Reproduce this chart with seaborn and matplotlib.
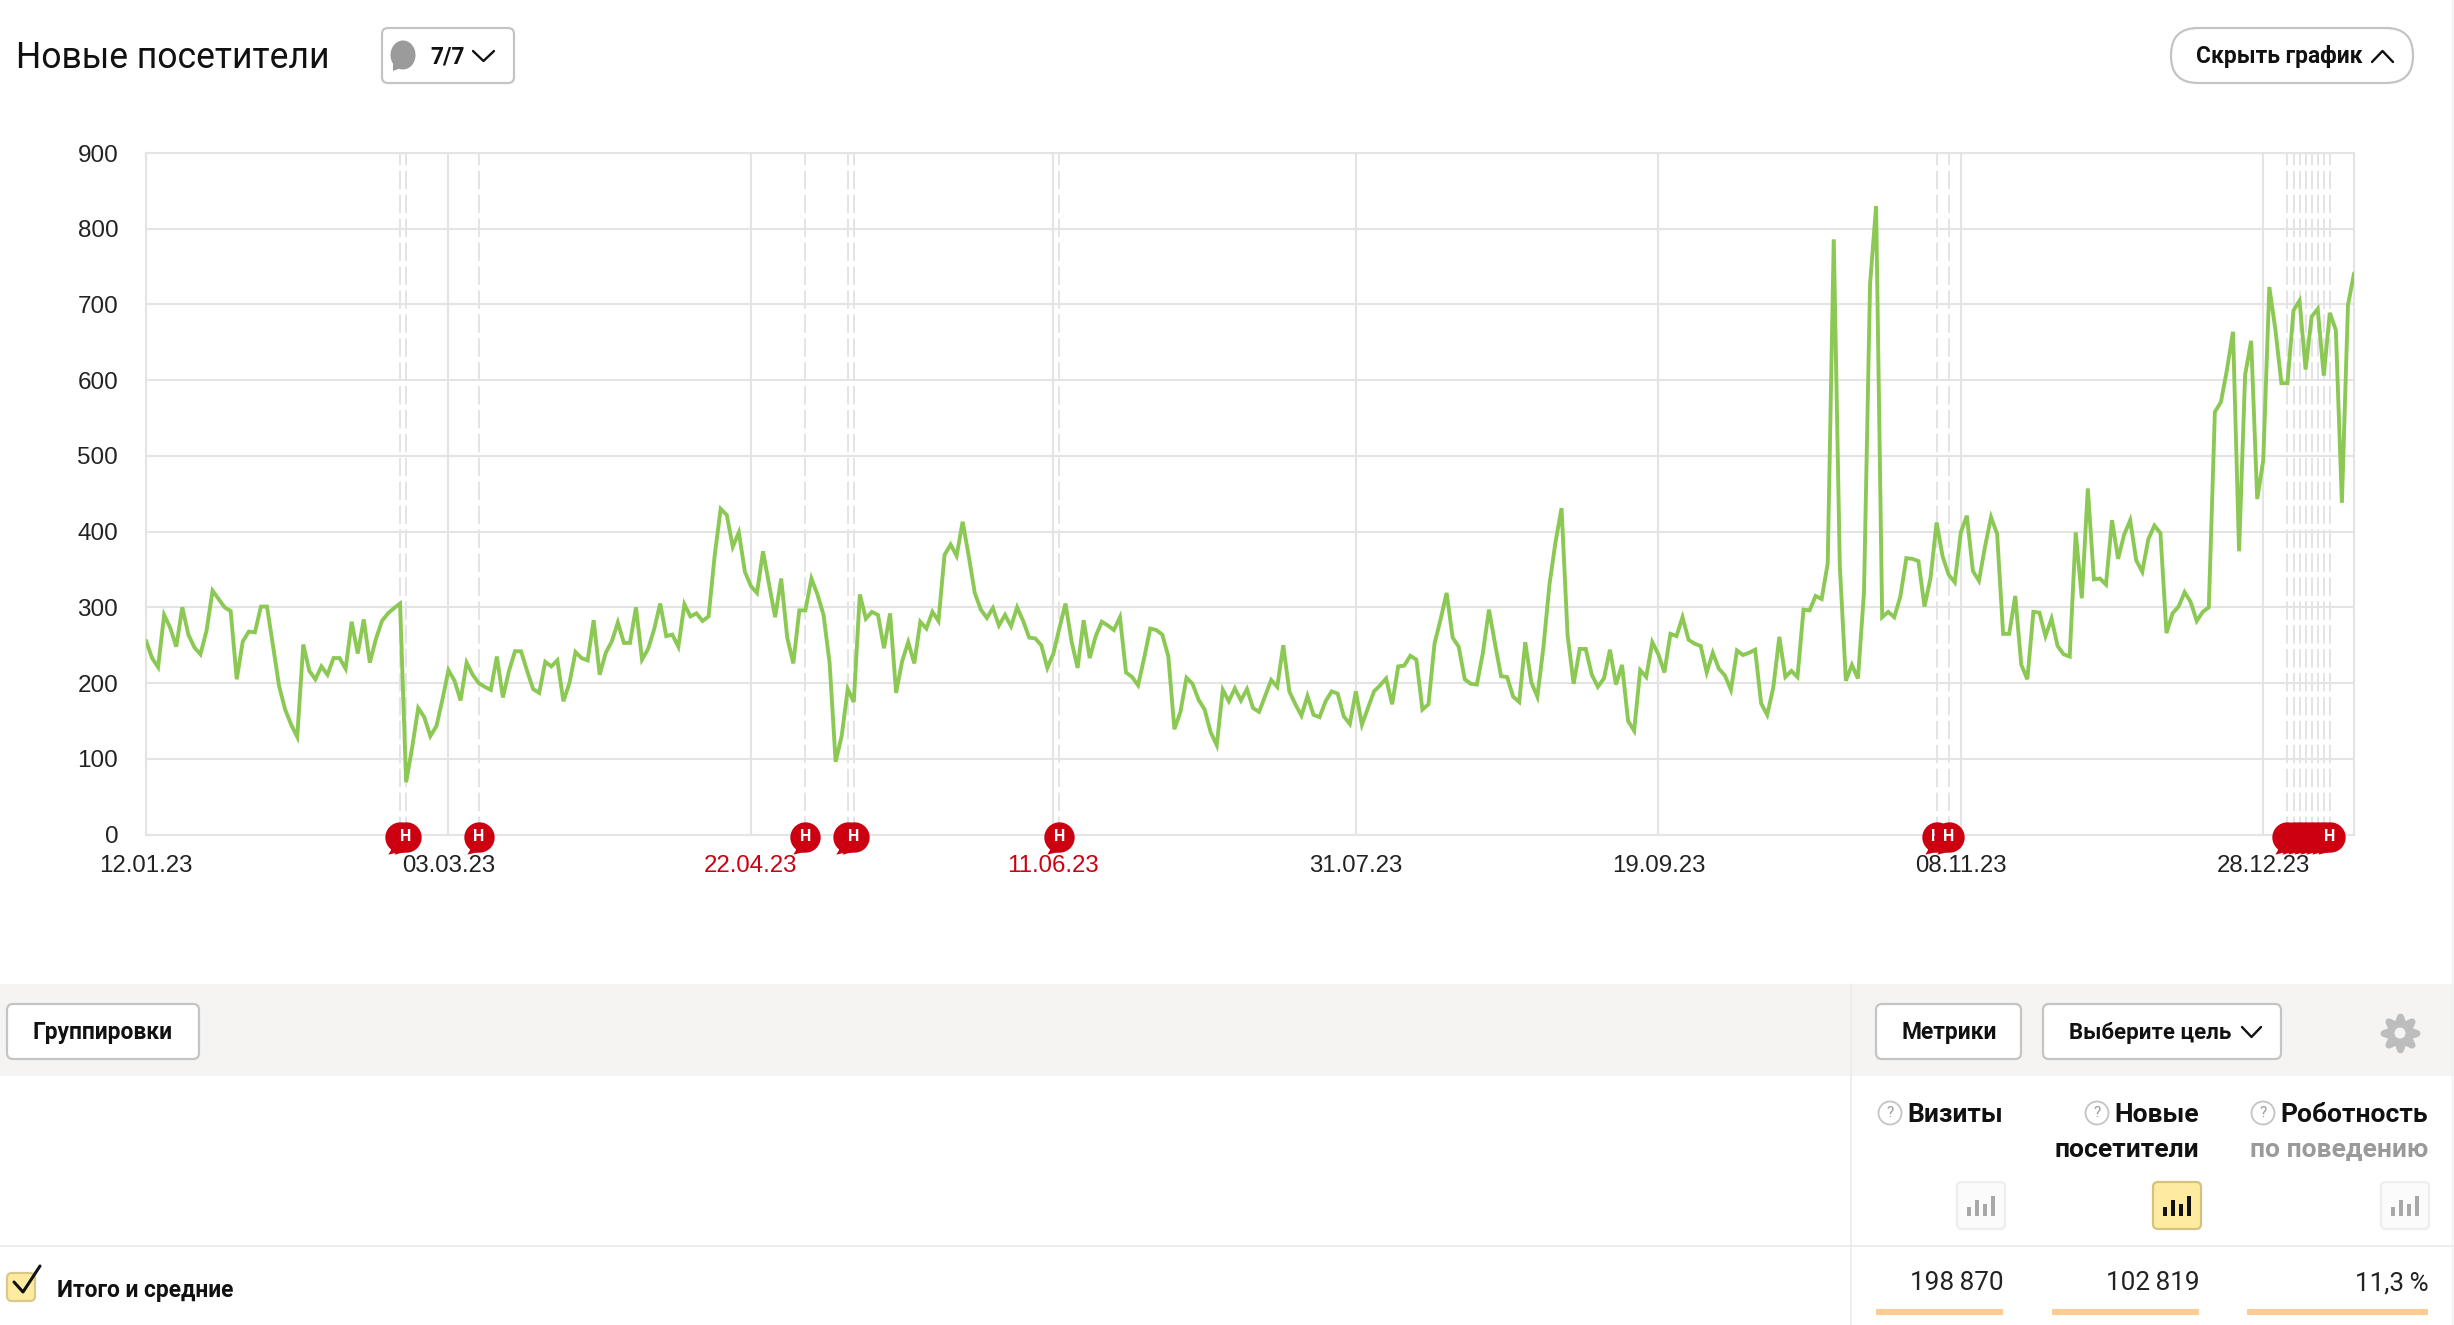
import pandas as pd
import seaborn as sns
import matplotlib.pyplot as plt
from matplotlib.patches import FancyBboxPatch, Rectangle, Circle, Ellipse, Polygon
from matplotlib.path import Path

# Daily values, 12.01.23 onwards
new_visitors = [
    256, 233, 221, 290, 273, 248, 300, 264, 247, 238, 269, 322, 311, 300, 295, 205, 255, 268, 267, 301,
    301, 249, 196, 165, 145, 129, 251, 216, 205, 222, 211, 233, 233, 219, 281, 239, 284, 227, 258, 282,
    292, 299, 305, 69, 115, 167, 155, 130, 143, 178, 217, 203, 177, 227, 211, 200, 195, 191, 235, 181,
    216, 242, 242, 216, 192, 187, 228, 222, 230, 176, 200, 241, 233, 230, 283, 211, 240, 255, 280, 253,
    253, 300, 231, 245, 271, 305, 262, 264, 248, 304, 288, 292, 282, 288, 368, 430, 422, 380, 399, 347,
    328, 319, 374, 330, 287, 338, 260, 226, 296, 296, 338, 317, 290, 227, 96, 130, 192, 175, 317, 285,
    294, 290, 246, 292, 187, 229, 254, 226, 281, 272, 294, 282, 369, 383, 368, 413, 368, 319, 297, 286,
    299, 276, 290, 275, 300, 282, 260, 259, 250, 220, 239, 273, 305, 255, 220, 283, 233, 262, 281, 276,
    270, 287, 214, 208, 197, 233, 272, 270, 264, 235, 139, 162, 207, 199, 178, 165, 135, 118, 191, 176,
    193, 177, 192, 167, 162, 183, 204, 195, 250, 189, 172, 157, 183, 158, 155, 176, 189, 186, 156, 146,
    189, 145, 167, 189, 197, 206, 172, 222, 223, 236, 231, 165, 172, 252, 284, 319, 260, 248, 205, 199,
    198, 240, 297, 252, 209, 208, 182, 175, 254, 201, 182, 247, 330, 386, 431, 263, 199, 245, 245, 211,
    195, 206, 244, 198, 224, 150, 137, 217, 208, 254, 238, 214, 265, 262, 287, 257, 252, 249, 214, 240,
    219, 210, 191, 243, 237, 240, 244, 173, 158, 194, 261, 208, 216, 208, 297, 296, 315, 311, 358, 786,
    355, 203, 224, 206, 320, 727, 830, 287, 294, 287, 314, 365, 364, 361, 301, 339, 412, 367, 343, 333,
    399, 421, 348, 335, 380, 419, 397, 265, 265, 315, 224, 205, 294, 293, 262, 285, 249, 238, 235, 399,
    312, 457, 337, 338, 330, 415, 364, 396, 415, 362, 347, 390, 408, 398, 266, 292, 301, 320, 307, 282,
    294, 300, 558, 571, 614, 664, 374, 607, 652, 443, 494, 723, 667, 596, 596, 692, 705, 614, 684, 694,
    606, 689, 666, 438, 699, 741,
]
start_date = "2023-01-12"

tick_labels = ["12.01.23", "03.03.23", "22.04.23", "11.06.23", "31.07.23", "19.09.23", "08.11.23", "28.12.23"]
red_labels = ["22.04.23", "11.06.23"]
y_ticks = [0, 100, 200, 300, 400, 500, 600, 700, 800, 900]

# Holiday notes on the chart
note_dates = ["2023-02-23", "2023-02-24", "2023-03-08", "2023-05-01", "2023-05-08", "2023-05-09",
              "2023-06-12", "2023-11-04", "2023-11-06", "2024-01-01", "2024-01-02", "2024-01-03",
              "2024-01-04", "2024-01-05", "2024-01-06", "2024-01-07", "2024-01-08"]

metrics_totals = ["198\u2009870", "102\u2009819", "11,3\u2009%"]

W, H = 2454, 1325
GRID = "#e4e4e4"
GREEN = "#8bc954"
RED = "#cc0011"
BOLD = 16.4

sns.set_style("white")
plt.rcParams["font.family"] = ["Roboto", "DejaVu Sans"]

fig = plt.figure(figsize=(W / 100, H / 100), dpi=100)

# page around the chart, drawn in pixel coordinates
ui = fig.add_axes([0, 0, 1, 1], zorder=0)
ui.set_xlim(0, W)
ui.set_ylim(H, 0)
ui.axis("off")


def button(x0, x1, y0, y1, round_size=6, face="white", edge="#c4c4c4"):
    ui.add_patch(FancyBboxPatch((x0, y0), x1 - x0, y1 - y0, boxstyle=f"round,pad=0,rounding_size={round_size}",
                                fc=face, ec=edge, lw=1.6))


def chevron(x0, x1, y0, y1):
    ui.plot([x0, (x0 + x1) / 2, x1], [y0, y1, y0], color="#111111", lw=1.7)


def bar_icon(x0, face, edge, color):
    button(x0, x0 + 48, 1182, 1229, round_size=5, face=face, edge=edge)
    for i, top in enumerate([1207, 1200, 1204, 1196]):
        ui.add_patch(Rectangle((x0 + 10 + i * 8, top), 4, 1216 - top, fc=color, ec="none"))


def question(x, y):
    ui.add_patch(Circle((x, y), 11.5, fc="white", ec="#c4c4c4", lw=1.3))
    ui.text(x, y, "?", ha="center", va="center", fontsize=11, color="#9a9a9a")


def label(x, y, text, size=BOLD, ha="center", color="#111111"):
    ui.text(x, y, text, weight="bold", fontsize=size, ha=ha, va="center", color=color)


ui.text(16, 58, "Новые посетители", fontsize=25.6, va="center", color="#111111")

button(382, 514, 28, 83)
ui.add_patch(Ellipse((403, 55), 25, 29, fc="#9b9b9b", ec="none"))
ui.add_patch(Polygon([[393, 62], [393, 71], [406, 66]], fc="#9b9b9b", ec="none"))
label(448, 57, "7/7")
chevron(473, 494, 51, 61)

button(2171, 2413, 28, 83, round_size=27)
label(2279, 57, "Скрыть график")
chevron(2372, 2393, 62, 51)

ui.add_patch(Rectangle((0, 984), W, 92, fc="#f5f4f2", ec="none"))
ui.plot([1851, 1851], [984, H], color="#eaeaea", lw=1.1)
ui.plot([0, W], [1246, 1246], color="#e8e8e8", lw=1.1)
ui.plot([2452, 2452], [0, H], color="#efefef", lw=1.0)

button(7, 199, 1004, 1059)
label(103, 1033, "Группировки")
button(1876, 2021, 1004, 1059)
label(1949, 1033, "Метрики")
button(2043, 2281, 1004, 1059)
label(2150, 1033, "Выберите цель", size=16)
chevron(2242, 2261, 1027, 1037)

# gear
ui.scatter([2400], [1033], s=560, marker=(8, 1, 0), color="#bdbdbd", linewidths=5)
ui.add_patch(Circle((2400, 1033), 12, fc="#bdbdbd", ec="none"))
ui.add_patch(Circle((2400, 1033), 5.5, fc="#f5f4f2", ec="none"))

# metric headers
for x, text in [(2003, "Визиты"), (2199, "Новые"), (2428, "Роботность")]:
    label(x, 1115, text, size=19, ha="right")
label(2199, 1150, "посетители", size=19, ha="right")
label(2428, 1150, "по поведению", size=19, ha="right", color="#9a9a9a")
question(1890, 1113)
question(2097, 1113)
question(2263, 1113)

bar_icon(1957, "#fbfbfb", "#eeeeee", "#a8a8a8")
bar_icon(2153, "#ffeba0", "#d4c27e", "#111111")
bar_icon(2381, "#fbfbfb", "#eeeeee", "#a8a8a8")

# totals row
button(7, 35, 1273, 1301, round_size=5, face="#ffeba0", edge="#d9c88a")
ui.plot([14, 23, 40], [1282, 1292, 1266], color="#111111", lw=2.2)
label(57, 1290, "Итого и средние", ha="left")
for (x0, x1), text in zip([(1876, 2003), (2052, 2199), (2247, 2428)], metrics_totals):
    ui.text(x1 + 1, 1283, text, fontsize=18.8, ha="right", va="center", color="#222222")
    ui.add_patch(Rectangle((x0, 1309), x1 - x0, 6, fc="#fdcb94", ec="none"))

# chart
ax = fig.add_axes([146 / W, 1 - 834.5 / H, (2354 - 146) / W, 681.5 / H], zorder=1)
ax.set_facecolor("none")

df = pd.DataFrame({"date": pd.date_range(start_date, periods=len(new_visitors)), "visitors": new_visitors})
notes = pd.to_datetime(note_dates)
ticks = pd.to_datetime(tick_labels, format="%d.%m.%y")

for d in notes:
    ax.axvline(d, color=GRID, lw=1.4, linestyle=(0, (9.5, 2.8)), zorder=1)

sns.lineplot(data=df, x="date", y="visitors", color=GREEN, linewidth=2.8, errorbar=None, ax=ax,
             solid_joinstyle="miter", zorder=3)

ax.set_xlim(df["date"].iloc[0], df["date"].iloc[-1])
ax.set_ylim(0, 900)
ax.set_yticks(y_ticks)
ax.set_xticks(ticks)
ax.set_xticklabels(tick_labels)
ax.set_xlabel("")
ax.set_ylabel("")
ax.set_axisbelow(True)
ax.grid(True, color=GRID, lw=1.5)
for side in ax.spines:
    ax.spines[side].set_visible(True)
    ax.spines[side].set_color(GRID)
    ax.spines[side].set_linewidth(1.5)
ax.tick_params(axis="y", length=0, pad=20, labelsize=17.5, labelcolor="#222222")
ax.tick_params(axis="x", length=0, pad=15, labelsize=17.3, labelcolor="#222222")
for lab in ax.get_xticklabels() + ax.get_yticklabels():
    lab.set_family(["Liberation Sans", "DejaVu Sans"])
    if lab.get_text() in red_labels:
        lab.set_color(RED)

# red speech bubbles on the axis: circle with a small tail
circle = Path.unit_circle()
tail = Path([(-0.55, -0.7), (-0.8, -1.13), (-0.05, -0.95), (-0.55, -0.7)],
            [Path.MOVETO, Path.LINETO, Path.LINETO, Path.CLOSEPOLY])
bubble = Path.make_compound_path(circle, tail)
for i, d in enumerate(notes):
    sns.scatterplot(x=[d], y=[-3], marker=bubble, s=610, color=RED, linewidth=0, clip_on=False, zorder=5 + i, ax=ax)
    # the letter of a bubble with a note on the next day is hidden by that next bubble
    if i + 1 < len(notes) and (notes[i + 1] - d).days == 1:
        continue
    ax.text(d, -3, "Н", color="white", weight="bold", fontsize=11.5, ha="center", va="center", zorder=5 + i,
            family=["Roboto", "DejaVu Sans"])

plt.savefig("out.png", dpi=100)
